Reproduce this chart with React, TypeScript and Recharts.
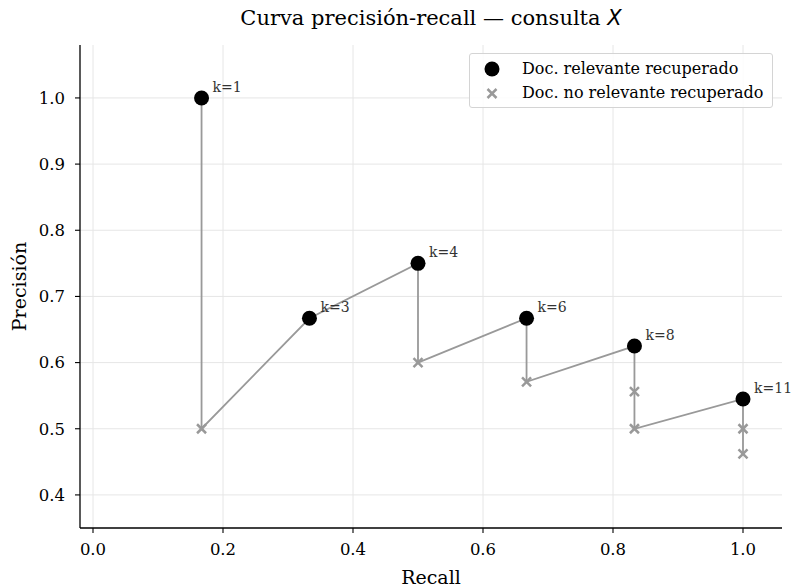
import React from 'react';
import {
  ScatterChart,
  Scatter,
  XAxis,
  YAxis,
  ReferenceLine,
  Legend,
} from 'recharts';

// ranking 1..13, 6 relevant docs in total
const ranks = [1, 2, 3, 4, 5, 6, 7, 8, 9, 10, 11, 12, 13];
const recallValues = [0.167, 0.167, 0.333, 0.5, 0.5, 0.667, 0.667, 0.833, 0.833, 0.833, 1.0, 1.0, 1.0];
const precisionValues = [1.0, 0.5, 0.667, 0.75, 0.6, 0.667, 0.571, 0.625, 0.556, 0.5, 0.545, 0.5, 0.462];
const relevantFlags = [true, false, true, true, false, true, false, true, false, false, true, false, false];

const xTicks = [0, 0.2, 0.4, 0.6, 0.8, 1.0];
const yTicks = [0.4, 0.5, 0.6, 0.7, 0.8, 0.9, 1.0];

const legendLabels = ['Doc. relevante recuperado', 'Doc. no relevante recuperado'];

const FONT = '"DejaVu Serif", serif';
const GRAY = '#999999';
const GRID = '#e6e6e6';

const points = ranks.map((k, i) => ({
  k,
  recall: recallValues[i],
  precision: precisionValues[i],
  relevant: relevantFlags[i],
}));
const relevantPts = points.filter(p => p.relevant);
const nonRelevantPts = points.filter(p => !p.relevant);

const RelevantDot = (props: any) => {
  const { cx, cy, payload } = props;
  return (
    <g>
      <circle cx={cx} cy={cy} r={7.5} fill="#000" />
      <text x={cx + 11} y={cy - 6} fontSize={14} fontFamily={FONT} fill="#333">
        k={payload.k}
      </text>
    </g>
  );
};

const CrossMark = (props: any) => {
  const { cx, cy } = props;
  const s = 4.5;
  return (
    <g stroke={GRAY} strokeWidth={2.5}>
      <line x1={cx - s} y1={cy - s} x2={cx + s} y2={cy + s} />
      <line x1={cx - s} y1={cy + s} x2={cx + s} y2={cy - s} />
    </g>
  );
};

const LegendBox = () => (
  <div
    style={{
      position: 'relative',
      width: 302,
      height: 53,
      border: '1px solid #d4d4d4',
      borderRadius: 3,
      background: 'rgba(255,255,255,0.85)',
      fontFamily: FONT,
      fontSize: 16,
      color: '#000',
    }}
  >
    <svg width={40} height={53} style={{ position: 'absolute', left: 0, top: 0 }}>
      <circle cx={22} cy={15} r={7.5} fill="#000" />
      <g stroke={GRAY} strokeWidth={2.5}>
        <line x1={17.5} y1={35} x2={26.5} y2={44} />
        <line x1={17.5} y1={44} x2={26.5} y2={35} />
      </g>
    </svg>
    <div style={{ position: 'absolute', left: 52, top: 5, lineHeight: '20px', whiteSpace: 'nowrap' }}>
      {legendLabels[0]}
    </div>
    <div style={{ position: 'absolute', left: 52, top: 29, lineHeight: '20px', whiteSpace: 'nowrap' }}>
      {legendLabels[1]}
    </div>
  </div>
);

const App: React.FC = () => {
  const tickStyle = { fill: '#000', fontSize: 16.5, fontFamily: FONT };
  return (
    <div style={{ position: 'absolute', left: 0, top: 0, width: 792, height: 588, background: '#fff' }}>
      <div
        style={{
          position: 'absolute',
          left: 80,
          width: 702,
          top: 8,
          textAlign: 'center',
          fontFamily: FONT,
          fontSize: 21,
          lineHeight: '21px',
          whiteSpace: 'nowrap',
          zIndex: 2,
        }}
      >
        Curva precisión-recall — consulta{' '}
        <span style={{ fontFamily: '"DejaVu Sans", sans-serif', fontStyle: 'italic' }}>X</span>
      </div>
      <ScatterChart width={792} height={588} margin={{ top: 45, right: 10, bottom: 0, left: 0 }}>
        {xTicks.map(t => (
          <ReferenceLine key={`vx${t}`} x={t} stroke={GRID} strokeWidth={1} />
        ))}
        {yTicks.map(t => (
          <ReferenceLine key={`hy${t}`} y={t} stroke={GRID} strokeWidth={1} />
        ))}
        <XAxis
          type="number"
          dataKey="recall"
          domain={[-0.02, 1.06]}
          ticks={xTicks}
          tickFormatter={(v: number) => v.toFixed(1)}
          height={60}
          tick={tickStyle}
          tickSize={5}
          tickMargin={10}
          stroke="#000"
          axisLine={{ stroke: '#000', strokeWidth: 1.3 }}
          tickLine={{ stroke: '#000', strokeWidth: 1.1 }}
          label={{
            value: 'Recall',
            position: 'insideBottom',
            offset: 4,
            style: { fontFamily: FONT, fontSize: 19, fill: '#000' },
          }}
        />
        <YAxis
          type="number"
          dataKey="precision"
          domain={[0.35, 1.08]}
          ticks={yTicks}
          tickFormatter={(v: number) => v.toFixed(1)}
          width={80}
          tick={tickStyle}
          tickSize={5}
          tickMargin={10}
          stroke="#000"
          axisLine={{ stroke: '#000', strokeWidth: 1.3 }}
          tickLine={{ stroke: '#000', strokeWidth: 1.1 }}
          label={{
            value: 'Precisión',
            angle: -90,
            position: 'insideLeft',
            offset: 19,
            style: { fontFamily: FONT, fontSize: 19, fill: '#000', textAnchor: 'middle' },
          }}
        />
        <Legend
          layout="vertical"
          align="center"
          verticalAlign="middle"
          wrapperStyle={{ left: 469, top: 53, width: 304 }}
          content={() => <LegendBox />}
        />
        <Scatter
          data={points}
          line={{ stroke: GRAY, strokeWidth: 1.8 }}
          shape={() => <g />}
          legendType="none"
          isAnimationActive={false}
        />
        <Scatter data={nonRelevantPts} shape={CrossMark} isAnimationActive={false} />
        <Scatter data={relevantPts} shape={RelevantDot} isAnimationActive={false} />
      </ScatterChart>
    </div>
  );
};

export default App;
